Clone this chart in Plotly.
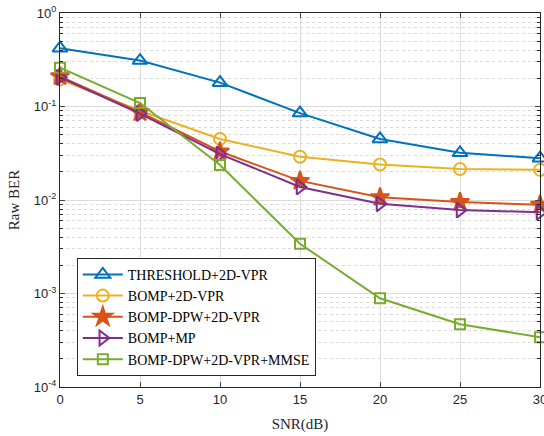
import plotly.graph_objects as go

snr = [0, 5, 10, 15, 20, 25, 30]
names = ["THRESHOLD+2D-VPR", "BOMP+2D-VPR", "BOMP-DPW+2D-VPR", "BOMP+MP", "BOMP-DPW+2D-VPR+MMSE"]
threshold = [0.42, 0.31, 0.18, 0.085, 0.045, 0.032, 0.028]
bomp_vpr = [0.195, 0.09, 0.045, 0.029, 0.024, 0.0214, 0.021]
bomp_dpw = [0.21, 0.087, 0.033, 0.016, 0.0107, 0.0095, 0.0089]
bomp_mp = [0.205, 0.084, 0.031, 0.0138, 0.0091, 0.0078, 0.0074]
bomp_mmse = [0.26, 0.109, 0.0237, 0.0034, 0.00089, 0.00047, 0.00034]
series = [threshold, bomp_vpr, bomp_dpw, bomp_mp, bomp_mmse]
colors = ["#0072BD", "#EDB120", "#D95319", "#7E2F8E", "#77AC30"]
symbols = ["triangle-up-open", "circle-open", "star", "triangle-right-open", "square-open"]
sizes = [13, 12, 14, 13, 10]
y_tickvals = [1e-4, 1e-3, 1e-2, 1e-1, 1]
y_ticktext = ["10<sup>-4</sup>", "10<sup>-3</sup>", "10<sup>-2</sup>", "10<sup>-1</sup>", "10<sup>0</sup>"]

fig = go.Figure()
for n, s, c, sym, sz in zip(names, series, colors, symbols, sizes):
    fig.add_trace(go.Scatter(
        x=snr, y=s, name=n, mode="lines+markers", cliponaxis=False,
        line=dict(color=c, width=2),
        marker=dict(symbol=sym, size=sz, color=c, line=dict(color=c, width=2)),
    ))

fig.update_layout(
    width=544, height=436,
    margin=dict(l=60, r=4, t=13, b=49),
    plot_bgcolor="white", paper_bgcolor="white",
    font=dict(family="Liberation Sans, Arial", size=13, color="#262626"),
    legend=dict(
        x=0.035, y=0.03, xanchor="left", yanchor="bottom",
        bgcolor="white", bordercolor="#262626", borderwidth=1,
        font=dict(family="Liberation Serif, Times New Roman", size=14, color="#000"),
        tracegroupgap=0, itemwidth=40,
    ),
)
fig.update_xaxes(
    range=[0, 30], tickvals=snr, ticks="inside", ticklen=5, automargin=False,
    ticklabeloverflow="allow",
    showline=True, linecolor="#262626", linewidth=1, mirror="ticks",
    showgrid=True, gridcolor="#dcdcdc", gridwidth=1, zeroline=False,
    title=dict(text="SNR(dB)", font=dict(family="Liberation Serif, Times New Roman", size=15, color="#262626"), standoff=12),
)
fig.update_yaxes(
    type="log", range=[-4, 0], tickvals=y_tickvals, ticktext=y_ticktext,
    ticks="inside", ticklen=5, automargin=False,
    showline=True, linecolor="#262626", linewidth=1, mirror="ticks",
    showgrid=True, gridcolor="#dcdcdc", gridwidth=1, zeroline=False,
    minor=dict(dtick="D1", ticks="inside", ticklen=3, showgrid=True, gridcolor="#dadada", griddash="dot", tickcolor="#262626"),
    title=dict(text="Raw BER", font=dict(family="Liberation Serif, Times New Roman", size=15, color="#262626"), standoff=10),
)
fig.write_html("out.html", config={"displayModeBar": False},
               post_script="document.body.style.margin='0';document.body.style.overflow='hidden';")
